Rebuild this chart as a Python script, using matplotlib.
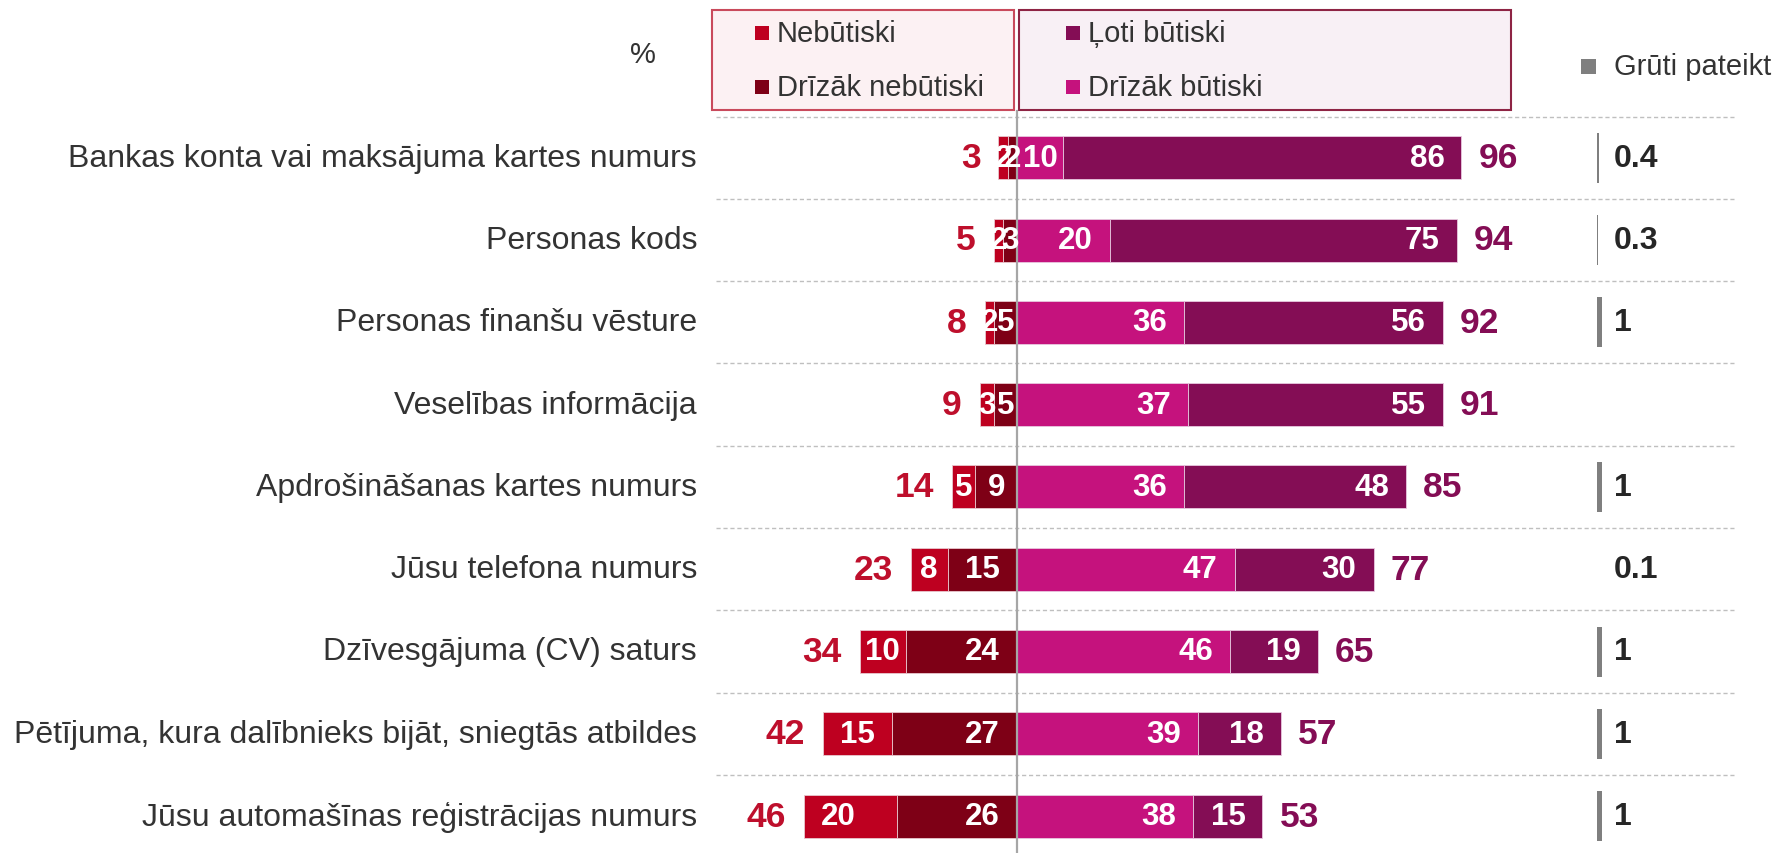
import matplotlib
matplotlib.use("Agg")
import matplotlib.pyplot as plt
from matplotlib.patches import Rectangle

plt.rcParams['font.family'] = ['Liberation Sans', 'DejaVu Sans']

# ---------------- data ----------------
categories = [
    "Bankas konta vai maksājuma kartes numurs",
    "Personas kods",
    "Personas finanšu vēsture",
    "Veselības informācija",
    "Apdrošināšanas kartes numurs",
    "Jūsu telefona numurs",
    "Dzīvesgājuma (CV) saturs",
    "Pētījuma, kura dalībnieks bijāt, sniegtās atbildes",
    "Jūsu automašīnas reģistrācijas numurs",
]
nebutiski = [2, 2, 2, 3, 5, 8, 10, 15, 20]
drizak_nebutiski = [2, 3, 5, 5, 9, 15, 24, 27, 26]
drizak_butiski = [10, 20, 36, 37, 36, 47, 46, 39, 38]
loti_butiski = [86, 75, 56, 55, 48, 30, 19, 18, 15]
total_neg = [3, 5, 8, 9, 14, 23, 34, 42, 46]
total_pos = [96, 94, 92, 91, 85, 77, 65, 57, 53]
gruti_pateikt = [0.4, 0.3, 1, None, 1, 0.1, 1, 1, 1]
gruti_labels = ["0.4", "0.3", "1", "", "1", "0.1", "1", "1", "1"]

series_names = ["Nebūtiski", "Drīzāk nebūtiski", "Ļoti būtiski", "Drīzāk būtiski", "Grūti pateikt"]

# ---------------- style ----------------
C_NEB = "#BE0020"
C_DNEB = "#7E0016"
C_DBUT = "#C5127D"
C_LOTI = "#840D55"
C_GRUTI = "#7F7F7F"
C_TOTNEG = "#BE0F2C"
C_TOTPOS = "#840D55"
C_TEXT = "#333333"

W, H = 1777, 854
CX, PXU = 1017.0, 4.63          # centre pixel, pixels per percentage unit
RY0, RDY = 158.7, 82.3          # first row centre, row pitch (pixels)


def ux(px):
    return (px - CX) / PXU


def ry(py):
    return (py - RY0) / RDY


fig = plt.figure(figsize=(W / 100, H / 100), dpi=100)
ax = fig.add_axes([0, 0, 1, 1])
ax.set_xlim(ux(0), ux(W))
ax.set_ylim(ry(H), ry(0))
ax.axis("off")

n = len(categories)
ys = list(range(n))
bh = 43 / RDY

# separators
for i in range(n):
    ax.plot([ux(716), ux(1734)], [i - 0.5, i - 0.5], color="#BFBFBF",
            lw=1.0, ls=(0, (3, 2)), zorder=1)

# centre line
ax.plot([0, 0], [ry(112), ry(H)], color="#A6A6A6", lw=1.6, zorder=5)

neg_in = [-v for v in drizak_nebutiski]
neg_out = [-v for v in nebutiski]
ax.barh(ys, neg_in, left=0, height=bh, color=C_DNEB, edgecolor="#E8C8CF", lw=0.6, zorder=3)
ax.barh(ys, neg_out, left=neg_in, height=bh, color=C_NEB, edgecolor="#E8C8CF", lw=0.6, zorder=3)
ax.barh(ys, drizak_butiski, left=0, height=bh, color=C_DBUT, edgecolor="#E8C8DF", lw=0.6, zorder=3)
ax.barh(ys, loti_butiski, left=drizak_butiski, height=bh, color=C_LOTI, edgecolor="#E8C8DF", lw=0.6, zorder=3)

# grūti pateikt bars
gx0 = ux(1597)
gvals = [v if v is not None else 0 for v in gruti_pateikt]
ax.barh(ys, gvals, left=gx0, height=50 / RDY, color=C_GRUTI, lw=0, zorder=3)

PAD = 17 / PXU
FS_IN = 22.5
FS_TOT = 25.5
DIGIT = 0.556 * FS_IN * 100 / 72 / PXU   # digit width in data units


def seg_label(y, a, b, val, mode):
    """a<b data extents. mode: 'left' align at a+pad, 'right' align at b-pad"""
    txt = str(val)
    w = len(txt) * DIGIT
    width = b - a
    kw = dict(va="center", color="white", fontsize=FS_IN, fontweight="bold", zorder=6)
    if width >= w + 2 * PAD:
        if mode == "left":
            ax.text(a + PAD, y, txt, ha="left", **kw)
        else:
            ax.text(b - PAD, y, txt, ha="right", **kw)
    else:
        ax.text((a + b) / 2, y, txt, ha="center", **kw)


for i in range(n):
    dn, nb, db, lb = drizak_nebutiski[i], nebutiski[i], drizak_butiski[i], loti_butiski[i]
    seg_label(i, -dn - nb, -dn, nb, "left")
    seg_label(i, -dn, 0, dn, "right")
    seg_label(i, 0, db, db, "right")
    seg_label(i, db, db + lb, lb, "right")
    ax.text(-dn - nb - 18 / PXU, i, str(total_neg[i]), ha="right", va="center",
            color=C_TOTNEG, fontsize=FS_TOT, fontweight="bold", zorder=6)
    ax.text(db + lb + 17 / PXU, i, str(total_pos[i]), ha="left", va="center",
            color=C_TOTPOS, fontsize=FS_TOT, fontweight="bold", zorder=6)
    ax.text(ux(697), i, categories[i], ha="right", va="center",
            color=C_TEXT, fontsize=23)
    if gruti_labels[i]:
        ax.text(gx0 + 17 / PXU, i, gruti_labels[i], ha="left", va="center",
                color="#262626", fontsize=23, fontweight="bold", zorder=6)

# ---------------- legend boxes (pixel helpers) ----------------
def prect(x0, y0, x1, y1, **kw):
    ax.add_patch(Rectangle((ux(x0), ry(y1)), ux(x1) - ux(x0), ry(y0) - ry(y1), **kw))


prect(712, 11, 1014, 111, facecolor="#FCF1F3", edgecolor="#C94A5C", lw=1.5, zorder=2)
prect(1019, 11, 1511, 111, facecolor="#F8F0F5", edgecolor="#8E2444", lw=1.5, zorder=2)

legend_items = [
    (755, 34, C_NEB, series_names[0]),
    (755, 88, C_DNEB, series_names[1]),
    (1066, 34, C_LOTI, series_names[2]),
    (1066, 88, C_DBUT, series_names[3]),
]
for x, y, c, lab in legend_items:
    prect(x, y - 7, x + 14, y + 7, facecolor=c, lw=0, zorder=4)
    ax.text(ux(x + 22), ry(y), lab, ha="left", va="center", color=C_TEXT,
            fontsize=21, zorder=4)

prect(1581, 60, 1596, 75, facecolor=C_GRUTI, lw=0, zorder=4)
ax.text(ux(1614), ry(67), series_names[4], ha="left", va="center", color=C_TEXT,
        fontsize=21, zorder=4)

ax.text(ux(643), ry(55), "%", ha="center", va="center", color=C_TEXT, fontsize=21)

fig.savefig("out.png", dpi=100)
